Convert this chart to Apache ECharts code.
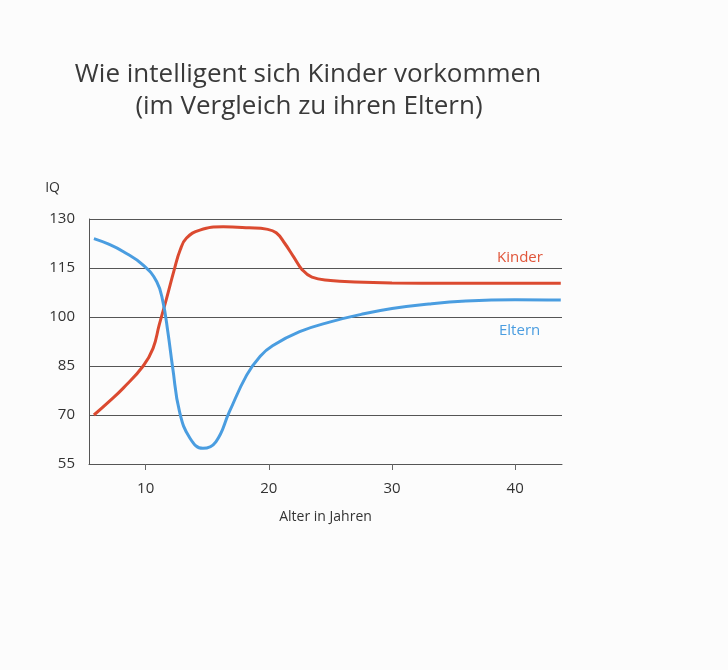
<!DOCTYPE html>
<html><head><meta charset="utf-8">
<script src="https://cdn.jsdelivr.net/npm/echarts@6/dist/echarts.min.js"></script>
<style>html,body{margin:0;padding:0;background:#fcfcfc}#c{width:728px;height:670px}</style>
</head><body><div id="c"></div>
<script>
var titleLine1 = 'Wie intelligent sich Kinder vorkommen';
var titleLine2 = '(im Vergleich zu ihren Eltern)';
var yTicks = [55, 70, 85, 100, 115, 130];
var xTicks = [10, 20, 30, 40];
var kinderAge = [5.8, 7, 8.2, 9.8, 10.6, 11.1, 11.7, 12.35, 12.8, 13.3, 14.4, 16.3, 18.4, 19.8, 20.6, 21.3, 22, 22.7, 23.5, 25, 27, 30, 35, 43.7];
var kinderIQ  = [70, 74, 78.3, 85, 90.4, 97.6, 105.7, 114.9, 120.5, 124.1, 126.6, 127.6, 127.3, 126.9, 125.8, 122.5, 118.5, 114.5, 112.2, 111.2, 110.7, 110.4, 110.3, 110.3];
var elternAge = [5.8, 7, 8.2, 9.8, 10.9, 11.4, 11.8, 12.2, 12.75, 13.6, 14.65, 15.7, 16.8, 18.2, 19.3, 20.3, 22.5, 25, 27.5, 30, 33, 36, 40, 43.7];
var elternIQ  = [124, 122.3, 120, 115.9, 110.8, 104.7, 95.5, 84.3, 71, 62.9, 59.8, 61.8, 71, 82.2, 88, 91.2, 95.5, 98.5, 100.8, 102.6, 104, 104.9, 105.3, 105.2];

function pairs(a, b) { return a.map(function (v, i) { return [v, b[i]]; }); }

var chart = echarts.init(document.getElementById('c'));
var font = 'Open Sans';
chart.setOption({
  backgroundColor: '#fcfcfc',
  animation: false,
  title: [
    { text: titleLine1, left: 303, top: 57, textAlign: 'center', textStyle: { fontFamily: font, fontSize: 26, fontWeight: 'normal', color: '#3a3a3a' } },
    { text: titleLine2, left: 304, top: 89, textAlign: 'center', textStyle: { fontFamily: font, fontSize: 26, fontWeight: 'normal', color: '#3a3a3a' } }
  ],
  grid: { left: 89, right: 166, top: 219, bottom: 206 },
  xAxis: {
    type: 'value', min: 5.4, max: 43.8, interval: 10,
    name: 'Alter in Jahren', nameLocation: 'middle', nameGap: 46,
    nameTextStyle: { fontFamily: font, fontSize: 14, color: '#333' },
    axisLine: { lineStyle: { color: '#555', width: 1 } },
    axisTick: { show: true, length: 6, lineStyle: { color: '#666' }, customValues: xTicks },
    axisLabel: { fontFamily: font, fontSize: 15, color: '#333', margin: 17, customValues: xTicks },
    splitLine: { show: false }
  },
  yAxis: {
    type: 'value', min: 55, max: 130, interval: 15,
    name: 'IQ', nameLocation: 'end', nameGap: 24,
    nameTextStyle: { fontFamily: font, fontSize: 14, color: '#333', align: 'right', padding: [0, 29, 0, 0] },
    axisLine: { show: true, lineStyle: { color: '#555', width: 1 } },
    axisTick: { show: false },
    axisLabel: { fontFamily: font, fontSize: 15, color: '#333', margin: 14 },
    splitLine: { show: true, lineStyle: { color: '#555', width: 1 } }
  },
  series: [
    { name: 'Kinder', type: 'line', data: pairs(kinderAge, kinderIQ), smooth: 0.45, symbol: 'none',
      lineStyle: { color: '#db4a30', width: 3 }, z: 3 },
    { name: 'Eltern', type: 'line', data: pairs(elternAge, elternIQ), smooth: 0.45, symbol: 'none',
      lineStyle: { color: '#4a9de0', width: 3 }, z: 4 }
  ],
  graphic: [
    { type: 'text', left: 497, top: 250, style: { text: 'Kinder', fontFamily: font, fontSize: 15, fill: '#e0553a' } },
    { type: 'text', left: 499, top: 323, style: { text: 'Eltern', fontFamily: font, fontSize: 15, fill: '#4a9de0' } }
  ]
});
</script></body></html>
